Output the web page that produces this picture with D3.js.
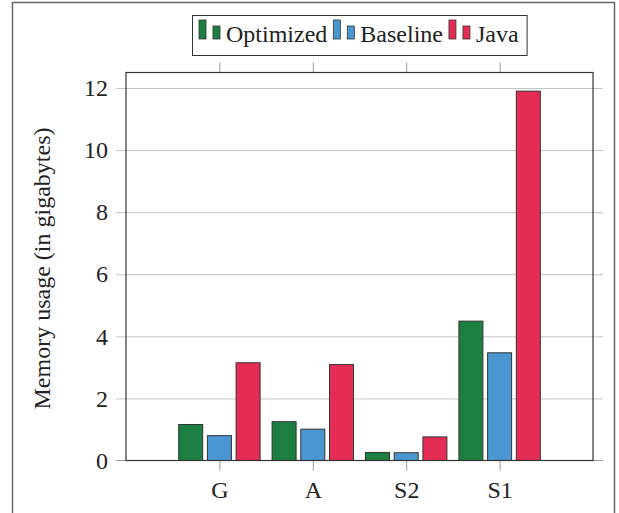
<!DOCTYPE html>
<html>
<head>
<meta charset="utf-8">
<script src="https://cdn.jsdelivr.net/npm/d3@7"></script>
<style>
  html, body { margin: 0; padding: 0; background: #fff; }
  svg { display: block; }
  svg text { font-family: "Liberation Serif", "Times New Roman", serif; fill: #222; }
</style>
</head>
<body>
<svg id="chart" width="619" height="513"></svg>
<script>
// Memory usage per workload, in gigabytes
const categories = ["G", "A", "S2", "S1"];
const seriesNames = ["Optimized", "Baseline", "Java"];
const optimized = [1.16, 1.25, 0.26, 4.49];
const baseline  = [0.80, 1.01, 0.25, 3.47];
const java      = [3.15, 3.09, 0.76, 11.9];
const yTicks = [0, 2, 4, 6, 8, 10, 12];
const colors = ["#1a7f41", "#4a96d1", "#e52c55"];

const series = [optimized, baseline, java];
const fontPx = 24;

const svg = d3.select("#chart");

// outer frame
svg.append("rect")
  .attr("x", 12.5).attr("y", 2.5)
  .attr("width", 602).attr("height", 530)
  .attr("fill", "none").attr("stroke", "#666").attr("stroke-width", 1.5);

const plotL = 126, plotR = 593, plotT = 72.5, plotB = 460.5;

const x = d3.scaleLinear().domain([-1, categories.length]).range([plotL, plotR]);
const y = d3.scaleLinear().domain([0, 12.5]).range([plotB, plotT]);

const barW = 24, barStep = 28.7;

// horizontal grid + outward ticks on both sides
const gridAxis = d3.axisLeft(y).tickValues(yTicks.filter(v => v > 0))
  .tickSize(-(plotR - plotL) - 20).tickFormat("");
svg.append("g")
  .attr("transform", `translate(${plotL - 10},0)`)
  .call(gridAxis)
  .call(g => g.select(".domain").remove())
  .call(g => g.selectAll(".tick line").attr("stroke", "#c4c4c4").attr("stroke-width", 1));

// zero tick stubs
svg.append("line").attr("x1", plotL - 10).attr("x2", plotL).attr("y1", y(0)).attr("y2", y(0))
  .attr("stroke", "#999");
svg.append("line").attr("x1", plotR).attr("x2", plotR + 10).attr("y1", y(0)).attr("y2", y(0))
  .attr("stroke", "#999");

// y tick labels
svg.append("g")
  .attr("transform", `translate(${plotL - 10},0)`)
  .call(d3.axisLeft(y).tickValues(yTicks).tickSize(0).tickPadding(8).tickFormat(d3.format("d")))
  .call(g => g.select(".domain").remove())
  .call(g => g.selectAll("text").attr("font-size", fontPx));

// x ticks top and bottom
const idx = d3.range(categories.length);
svg.append("g")
  .attr("transform", `translate(0,${plotB})`)
  .call(d3.axisBottom(x).tickValues(idx).tickSize(10).tickPadding(10).tickFormat(i => categories[i]))
  .call(g => g.select(".domain").remove())
  .call(g => g.selectAll(".tick line").attr("stroke", "#999"))
  .call(g => g.selectAll("text").attr("font-size", fontPx));
svg.append("g")
  .attr("transform", `translate(0,${plotT})`)
  .call(d3.axisTop(x).tickValues(idx).tickSize(10).tickFormat(""))
  .call(g => g.select(".domain").remove())
  .call(g => g.selectAll(".tick line").attr("stroke", "#999"));

// bars
series.forEach((vals, s) => {
  svg.append("g")
    .selectAll("rect")
    .data(vals)
    .join("rect")
    .attr("x", (d, i) => x(i) + (s - 1) * barStep - barW / 2)
    .attr("y", d => y(d))
    .attr("width", barW)
    .attr("height", d => y(0) - y(d))
    .attr("fill", colors[s])
    .attr("stroke", "#333")
    .attr("stroke-width", 1);
});

// plot frame
svg.append("rect")
  .attr("x", plotL).attr("y", plotT)
  .attr("width", plotR - plotL).attr("height", plotB - plotT)
  .attr("fill", "none").attr("stroke", "#333").attr("stroke-width", 1.2);

// y axis title
svg.append("text")
  .attr("transform", `translate(50,${(plotT + plotB) / 2 + 2}) rotate(-90)`)
  .attr("text-anchor", "middle")
  .attr("font-size", fontPx)
  .text("Memory usage (in gigabytes)");

// legend
const lg = svg.append("g").attr("transform", "translate(192,15)");
const box = lg.append("rect").attr("x", 0.5).attr("y", 0.5).attr("height", 40)
  .attr("fill", "#fff").attr("stroke", "#333").attr("stroke-width", 1);
let cx = 7;
seriesNames.forEach((name, s) => {
  lg.append("rect").attr("x", cx).attr("y", 5).attr("width", 7).attr("height", 19)
    .attr("fill", colors[s]).attr("stroke", "#333").attr("stroke-width", 0.8);
  lg.append("rect").attr("x", cx + 14).attr("y", 11).attr("width", 7).attr("height", 13)
    .attr("fill", colors[s]).attr("stroke", "#333").attr("stroke-width", 0.8);
  const t = lg.append("text").attr("x", cx + 27).attr("y", 27)
    .attr("font-size", fontPx).text(name);
  cx += 27 + t.node().getComputedTextLength() + 6;
});
box.attr("width", cx + 2);
</script>
</body>
</html>
